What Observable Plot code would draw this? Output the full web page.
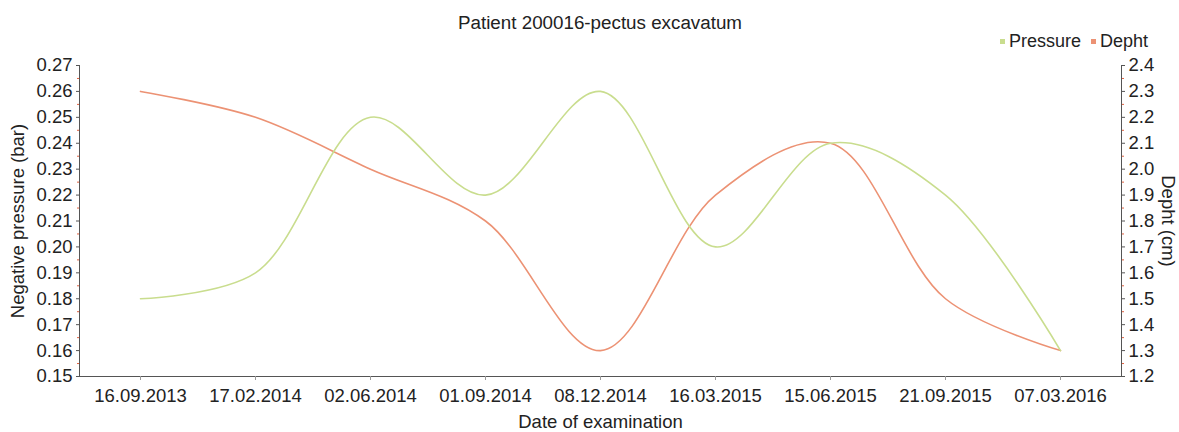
<!DOCTYPE html>
<html>
<head>
<meta charset="utf-8">
<script src="https://cdn.jsdelivr.net/npm/d3@7"></script>
<script src="https://cdn.jsdelivr.net/npm/@observablehq/plot@0.6"></script>
<style>
  body { margin: 0; background: #fff; font-family: "Liberation Sans", Arial, sans-serif; color: #222; }
  #wrap { position: relative; width: 1179px; height: 432px; }
  #head { position: relative; width: 1179px; height: 50px; }
  #title { position: absolute; left: 0; width: 1200px; top: 12px; text-align: center; font-size: 18.8px; }
  #legend { position: absolute; left: 1000px; top: 31px; font-size: 18px; white-space: nowrap; }
  #legend span.sw { display: inline-block; width: 5px; height: 5px; margin-right: 4px; vertical-align: middle; position: relative; top: -1px; }
  #legend span.it { margin-right: 10px; }
  svg { display: block; }
</style>
</head>
<body>
<div id="wrap">
  <div id="head">
    <div id="title"></div>
    <div id="legend"></div>
  </div>
  <div id="chart"></div>
</div>
<script>
const titleText = "Patient 200016-pectus excavatum";
const dates = ["16.09.2013", "17.02.2014", "02.06.2014", "01.09.2014", "08.12.2014", "16.03.2015", "15.06.2015", "21.09.2015", "07.03.2016"];
const pressure = [0.18, 0.19, 0.25, 0.22, 0.26, 0.20, 0.24, 0.22, 0.16];
const depht = [2.3, 2.2, 2.0, 1.8, 1.3, 1.9, 2.1, 1.5, 1.3];
const seriesNames = ["Pressure", "Depht"];
const seriesColors = ["#c9dd8e", "#ec9274"];
const pressureTicks = [0.15, 0.16, 0.17, 0.18, 0.19, 0.20, 0.21, 0.22, 0.23, 0.24, 0.25, 0.26, 0.27];
const dephtTicks = [1.2, 1.3, 1.4, 1.5, 1.6, 1.7, 1.8, 1.9, 2.0, 2.1, 2.2, 2.3, 2.4];
const xLabel = "Date of examination";
const yLeftLabel = "Negative pressure (bar)";
const yRightLabel = "Depht (cm)";

// map depth (right axis, 1.2–2.4) onto pressure scale (left axis, 0.15–0.27)
const toP = d => 0.15 + (d - 1.2) * 0.1;
const fromP = p => 1.2 + (p - 0.15) * 10;

document.getElementById("title").textContent = titleText;
const leg = document.getElementById("legend");
seriesNames.forEach((n, i) => {
  const sw = document.createElement("span");
  sw.className = "sw"; sw.style.background = seriesColors[i];
  const t = document.createElement("span");
  t.className = "it"; t.textContent = n;
  leg.appendChild(sw); leg.appendChild(t);
});

const pData = dates.map((d, i) => ({date: d, v: pressure[i]}));
const dData = dates.map((d, i) => ({date: d, v: toP(depht[i])}));
const minorLeft = pressureTicks.slice(0, -1).map(v => v + 0.005);
const minorRight = dephtTicks.slice(0, -1).map(v => toP(v + 0.05));

const chart = Plot.plot({
  width: 1179,
  height: 382,
  marginTop: 15,
  marginBottom: 56,
  marginLeft: 79,
  marginRight: 58,
  style: {fontFamily: "Liberation Sans, Arial, sans-serif", fontSize: "18.5px", color: "#222", background: "white"},
  x: {type: "point", domain: dates, padding: 0.5, axis: null},
  y: {domain: [0.15, 0.27], axis: null},
  marks: [
    Plot.frame({anchor: "left", stroke: "#555"}),
    Plot.frame({anchor: "right", stroke: "#555"}),
    Plot.frame({anchor: "bottom", stroke: "#555"}),
    Plot.axisX({tickSize: 4, tickPadding: 8, stroke: "#999", label: null}),
    Plot.axisY(pressureTicks, {anchor: "left", tickSize: 3, tickPadding: 4, stroke: "#555", tickFormat: d => d.toFixed(2), label: null}),
    Plot.axisY(minorLeft, {anchor: "left", tickSize: 2, stroke: "#e0603f", tickFormat: () => "", label: null}),
    Plot.axisY(dephtTicks.map(toP), {anchor: "right", tickSize: 3, tickPadding: 4, stroke: "#555", tickFormat: p => fromP(p).toFixed(1), label: null}),
    Plot.axisY(minorRight, {anchor: "right", tickSize: 2, stroke: "#e0603f", tickFormat: () => "", label: null}),
    Plot.line(dData, {x: "date", y: "v", curve: "catmull-rom", stroke: seriesColors[1], strokeWidth: 1.6}),
    Plot.line(pData, {x: "date", y: "v", curve: "catmull-rom", stroke: seriesColors[0], strokeWidth: 1.6}),
    Plot.text([xLabel], {text: d => d, frameAnchor: "bottom", dy: 46, lineAnchor: "middle", textAnchor: "middle", fontSize: 18.5, fill: "#222"}),
    Plot.text([yLeftLabel], {text: d => d, frameAnchor: "left", dx: -61, rotate: -90, textAnchor: "middle", lineAnchor: "middle", fontSize: 18.5, fill: "#222"}),
    Plot.text([yRightLabel], {text: d => d, frameAnchor: "right", dx: 46, rotate: 90, textAnchor: "middle", lineAnchor: "middle", fontSize: 18.5, fill: "#222"})
  ]
});
document.getElementById("chart").appendChild(chart);
</script>
</body>
</html>
